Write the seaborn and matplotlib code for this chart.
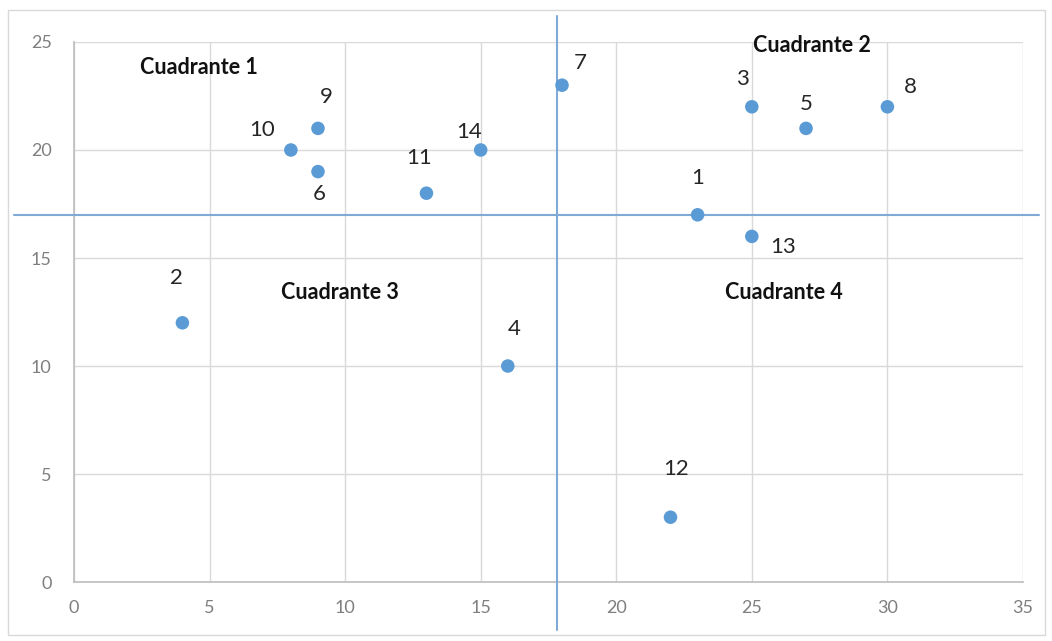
import matplotlib

matplotlib.use("Agg")

import matplotlib.pyplot as plt
import pandas as pd
import seaborn as sns
from matplotlib.patches import Rectangle

# data
point_ids = [1, 2, 3, 4, 5, 6, 7, 8, 9, 10, 11, 12, 13, 14]
x_values = [23, 4, 25, 16, 27, 9, 18, 30, 9, 8, 13, 22, 25, 15]
y_values = [17, 12, 22, 10, 21, 19, 23, 22, 21, 20, 18, 3, 16, 20]

x_divider = 17.8
y_divider = 17

quadrant_names = ["Cuadrante 1", "Cuadrante 2", "Cuadrante 3", "Cuadrante 4"]
quadrant_x = [4.6, 27.2, 9.8, 26.2]
quadrant_y = [23.8, 24.85, 13.4, 13.4]

x_ticks = [0, 5, 10, 15, 20, 25, 30, 35]
y_ticks = [0, 5, 10, 15, 20, 25]

# label offsets (pixels) from each point
label_offsets = {
    1: (0, 37), 2: (-6, 45), 3: (-9, 28), 4: (6, 37), 5: (0, 24),
    6: (1, -22), 7: (18, 22), 8: (23, 20), 9: (8, 31), 10: (-29, 20),
    11: (-7, 35), 12: (6, 48), 13: (31, -11), 14: (-12, 18),
}

BLUE = "#5B9BD5"
LINE_BLUE = "#7FA9D6"
GRID = "#D9D9D9"

sns.set_theme(style="white")
plt.rcParams["font.family"] = ["Lato", "DejaVu Sans"]

data = pd.DataFrame({"id": point_ids, "x": x_values, "y": y_values})

fig = plt.figure(figsize=(10.52, 6.41), dpi=100)
ax = fig.add_axes([0.0703, 0.092, 0.9021, 0.8425])

sns.scatterplot(data=data, x="x", y="y", ax=ax, color=BLUE, s=95,
                edgecolor="none", zorder=4)

for pid, px, py in zip(point_ids, x_values, y_values):
    dx, dy = label_offsets[pid]
    ax.annotate(str(pid), (px, py), xytext=(dx, dy), textcoords="offset pixels",
                ha="center", va="center", fontsize=16, color="#262626", zorder=5)

for name, qx, qy in zip(quadrant_names, quadrant_x, quadrant_y):
    ax.text(qx, qy, name, ha="center", va="center", fontsize=15.5,
            fontweight="bold", color="#111111", zorder=5)

# quadrant dividers, reaching past the plot area
ax.plot([x_divider, x_divider], [-2.2, 26.2], color=LINE_BLUE, lw=1.5,
        clip_on=False, zorder=3)
ax.plot([-2.2, 35.6], [y_divider, y_divider], color=LINE_BLUE, lw=1.5,
        clip_on=False, zorder=3)

ax.set_xlim(0, 35)
ax.set_ylim(0, 25)
ax.set_xticks(x_ticks)
ax.set_yticks(y_ticks)
ax.grid(True, color=GRID, lw=1)
ax.set_axisbelow(True)
for side, spine in ax.spines.items():
    spine.set_visible(side in ("left", "bottom"))
    spine.set_color("#BFBFBF")
ax.tick_params(length=0, labelsize=13, labelcolor="#7F7F7F")
ax.tick_params(axis="x", pad=13)
ax.tick_params(axis="y", pad=16)
ax.set_xlabel("")
ax.set_ylabel("")

fig.patches.append(Rectangle((0.008, 0.01), 0.985, 0.975, transform=fig.transFigure,
                             fill=False, edgecolor="#D9D9D9", lw=1))

fig.savefig("out.png", dpi=100)
plt.close(fig)
